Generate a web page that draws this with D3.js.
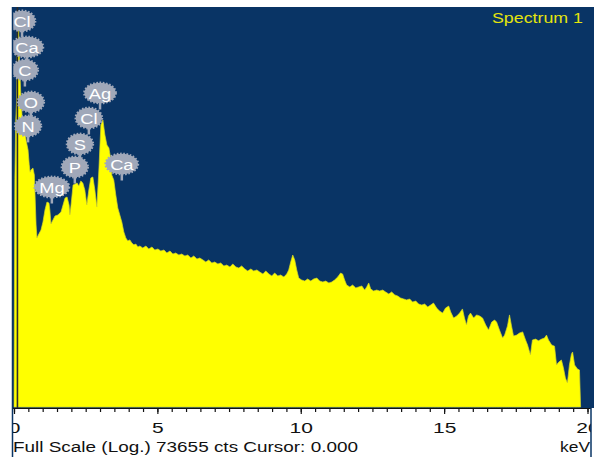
<!DOCTYPE html>
<html>
<head>
<meta charset="utf-8">
<title>Spectrum 1</title>
<script src="https://d3js.org/d3.v7.min.js"></script>
<style>
  body { margin: 0; background: #fff; }
  svg { display: block; font-family: "Liberation Sans", Arial, sans-serif; }
</style>
</head>
<body>
<div id="chart"></div>
<script>
// spectrum: energy in keV, counts (log scale)
const energyKeV = [
  0.00,0.03,0.06,0.09,0.12,0.16,0.19,0.23,0.28,0.35,
  0.42,0.49,0.53,0.56,0.59,0.66,0.71,0.77,0.80,0.87,
  0.94,1.01,1.08,1.15,1.22,1.25,1.29,1.36,1.43,1.53,
  1.64,1.71,1.78,1.85,1.92,1.95,1.99,2.06,2.13,2.20,
  2.26,2.33,2.40,2.47,2.54,2.61,2.68,2.75,2.82,2.89,
  2.96,3.03,3.10,3.17,3.24,3.31,3.38,3.41,3.48,3.55,
  3.62,3.69,3.76,3.83,3.90,3.97,4.04,4.11,4.18,4.25,
  4.32,4.39,
  4.49,4.60,4.70,4.81,4.91,5.02,5.12,5.23,5.33,5.44,
  5.54,5.64,5.75,5.85,5.96,6.06,6.17,6.27,6.38,6.48,
  6.59,6.69,6.79,6.90,7.00,7.11,7.21,7.32,7.42,7.53,
  7.63,7.74,7.84,7.94,8.05,8.15,8.26,8.36,8.47,8.57,
  8.68,8.78,8.89,8.99,9.09,9.20,9.30,9.41,9.51,9.58,
  9.65,9.72,9.79,9.86,9.93,10.03,10.14,10.24,10.35,10.45,
  10.56,10.66,10.77,10.87,10.98,11.08,11.18,11.29,11.39,11.46,
  11.53,11.60,11.71,11.81,11.92,12.02,12.13,12.23,12.30,12.37,
  12.44,12.54,12.65,12.75,12.86,12.96,13.07,13.17,13.28,13.38,
  13.48,13.59,13.69,13.80,13.90,14.01,14.11,14.22,14.32,14.43,
  14.53,14.63,14.74,14.84,14.95,15.05,15.16,15.23,15.33,15.44,
  15.54,15.64,15.71,15.78,15.85,15.92,16.03,16.13,16.24,16.34,
  16.45,16.55,16.66,16.76,16.83,16.93,17.04,17.11,17.21,17.28,
  17.35,17.42,17.53,17.63,17.74,17.84,17.91,18.01,18.08,18.19,
  18.29,18.40,18.50,18.57,18.64,18.75,18.85,18.92,18.99,19.09,
  19.16,19.23,19.30,19.37,19.44,19.48,19.55,19.65,19.72,19.76
];
const counts = [
  1,600,3000,5400,38700,40900,16700,7200,3570,2700,
  1770,1340,900,720,765,809,665,164,114,128,
  142,178,250,312,303,250,169,189,211,217,
  236,287,349,359,287,217,287,503,517,532,
  489,562,532,437,287,437,612,629,437,271,
  765,2700,3110,2040,1540,1420,1010,665,578,380,
  264,217,178,135,114,105,108,99,94,96,
  88.5,91,
  86.1,91.0,83.7,88.5,81.4,83.7,79.1,81.4,74.8,79.1,
  72.7,74.8,70.7,72.7,68.8,70.7,65.0,68.8,63.2,65.0,
  61.5,58.1,61.5,56.5,58.1,55.0,56.5,52.0,53.4,50.5,
  55.0,50.5,49.1,52.0,47.8,45.2,47.8,45.2,46.5,43.9,
  41.5,45.2,41.5,39.3,42.7,39.3,40.4,38.2,41.5,46.5,
  58.1,70.7,61.5,46.5,37.1,35.1,34.1,36.1,34.1,36.1,
  37.1,34.1,33.2,34.1,32.3,33.2,35.1,38.2,42.7,41.5,
  35.1,30.5,28.9,30.5,28.1,28.9,29.7,26.5,28.9,32.3,
  27.3,25.8,26.5,25.8,26.5,25.1,23.7,25.1,23.1,22.4,
  21.2,20.6,20.1,20.6,18.9,19.5,17.9,17.4,17.9,16.5,
  17.4,18.4,16.0,14.7,13.9,16.0,16.9,14.3,12.1,12.8,
  13.9,15.6,12.1,9.95,12.8,13.9,12.1,13.2,12.8,12.1,
  9.95,8.65,10.8,11.45,10.8,8.65,6.9,7.5,9.7,13.2,
  9.7,7.3,7.5,7.95,8.2,6.54,5.68,4.30,6.54,6.7,
  6.4,6.7,6.9,7.5,6.54,5.68,5.5,3.25,3.5,3.73,
  3.0,2.25,1.96,3.25,4.4,4.67,3.25,2.9,2.82,1
];

// element labels: name, energy (keV) and the count level where the tag sits
const markerNames = ["Cl", "Ca", "C", "O", "N", "Mg", "P", "S", "Cl", "Ag", "Ca"];
const markerKeV = [0.28, 0.45, 0.38, 0.59, 0.49, 1.32, 2.12, 2.30, 2.61, 3.00, 3.76];
const markerLevel = [49800, 24000, 12600, 5140, 2630, 475, 832, 1585, 3285, 6620, 905];

const xTicks = [0, 5, 10, 15, 20];
const minorStep = 0.5;
const fullScale = 73655;
const cursorKeV = 0.12;
const title = "Spectrum 1";
const footer = "Full Scale (Log.) 73655 cts Cursor: 0.000";
const unit = "keV";

const width = 594, height = 457;
const plot = { left: 12, top: 7, right: 594, bottom: 408 };
const blue = "#093465";
const tagGrey = "#a0a8b9";

const svg = d3.select("#chart").append("svg")
    .attr("width", width)
    .attr("height", height);

const x = d3.scaleLinear().domain([0, 20]).range([14, 587.5]);
const y = d3.scaleLog().domain([1, fullScale]).range([407, plot.top]);

const defs = svg.append("defs");
defs.append("clipPath").attr("id", "plotClip")
  .append("rect")
    .attr("x", plot.left).attr("y", plot.top)
    .attr("width", plot.right - plot.left).attr("height", plot.bottom - plot.top);
defs.append("clipPath").attr("id", "textClip")
  .append("rect")
    .attr("x", 13).attr("y", 0).attr("width", 578).attr("height", height);

// background
svg.append("rect")
    .attr("x", plot.left).attr("y", plot.top)
    .attr("width", plot.right - plot.left).attr("height", plot.bottom - plot.top)
    .attr("fill", blue);

// spectrum
const data = energyKeV.map((e, i) => ({ e, c: counts[i] }));
const area = d3.area()
    .x(d => x(d.e))
    .y0(y(1))
    .y1(d => y(d.c));

svg.append("path")
    .datum(data)
    .attr("clip-path", "url(#plotClip)")
    .attr("d", area)
    .attr("fill", "#ffff00")
    .attr("stroke", "#d6d62a")
    .attr("stroke-width", 0.7);

// cursor line
svg.append("line")
    .attr("x1", x(cursorKeV)).attr("x2", x(cursorKeV))
    .attr("y1", plot.top).attr("y2", plot.bottom)
    .attr("stroke", "#2e2e2a")
    .attr("stroke-width", 1.6);

// element tags
const tags = svg.append("g")
    .attr("clip-path", "url(#plotClip)")
  .selectAll("g")
  .data(markerNames.map((n, i) => ({ name: n, keV: markerKeV[i], level: markerLevel[i] })))
  .join("g")
    .attr("transform", d => `translate(${x(d.keV)},${y(d.level)})`);

tags.append("line")
    .attr("y1", 0).attr("y2", 16.5)
    .attr("stroke", tagGrey)
    .attr("stroke-width", 2.5);

tags.append("ellipse")
    .attr("fill", tagGrey)
    .attr("stroke", tagGrey)
    .attr("stroke-width", 2.4)
    .attr("stroke-dasharray", "1.6,1.6")
    .attr("ry", 10.2);

tags.append("text")
    .attr("text-anchor", "middle")
    .attr("dy", "0.36em")
    .attr("transform", "scale(1.18,1)")
    .attr("font-size", 15.5)
    .attr("fill", "#ffffff")
    .text(d => d.name);

tags.each(function() {
  const g = d3.select(this);
  const w = g.select("text").node().getComputedTextLength() * 1.18;
  g.select("ellipse").attr("rx", Math.max(13, w / 2 + 4.5));
});

// title
svg.append("text")
    .attr("x", 583).attr("y", 23)
    .attr("text-anchor", "end")
    .attr("font-size", 15)
    .attr("fill", "#e4e40c")
    .attr("textLength", 91)
    .attr("lengthAdjust", "spacingAndGlyphs")
    .text(title);

// x axis (tick labels at the frame edges are cut, as in the original)
const bottom = svg.append("g").attr("clip-path", "url(#textClip)");

const minorTicks = d3.range(0, 20 + minorStep / 2, minorStep);
bottom.append("g")
    .attr("transform", `translate(0,${plot.bottom})`)
    .call(d3.axisBottom(x).tickValues(minorTicks).tickSize(4).tickFormat(""))
    .call(g => g.select(".domain").remove())
    .call(g => g.selectAll("line").attr("stroke", "#111").attr("stroke-width", 1.2));

const axis = bottom.append("g")
    .attr("transform", `translate(0,${plot.bottom})`)
    .call(d3.axisBottom(x).tickValues(xTicks).tickSize(6).tickPadding(8).tickFormat(d3.format("d")))
    .call(g => g.select(".domain").remove());
axis.selectAll("line").attr("stroke", "#111").attr("stroke-width", 1.2);
axis.selectAll("text")
    .attr("font-family", "'Liberation Sans', Arial, sans-serif")
    .attr("font-size", 15)
    .attr("fill", "#111")
    .attr("transform", "scale(1.4,1)");

bottom.append("line")
    .attr("x1", plot.left).attr("x2", 591)
    .attr("y1", plot.bottom + 0.5).attr("y2", plot.bottom + 0.5)
    .attr("stroke", "#111")
    .attr("stroke-width", 1.2);

bottom.append("text")
    .attr("x", 13).attr("y", 452)
    .attr("font-size", 15.5)
    .attr("fill", "#111")
    .attr("textLength", 345)
    .attr("lengthAdjust", "spacingAndGlyphs")
    .text(footer);

bottom.append("text")
    .attr("x", 590).attr("y", 452)
    .attr("text-anchor", "end")
    .attr("font-size", 15.5)
    .attr("fill", "#111")
    .attr("textLength", 30)
    .attr("lengthAdjust", "spacingAndGlyphs")
    .text(unit);

// frame edges
svg.append("line")
    .attr("x1", 12.5).attr("x2", 12.5)
    .attr("y1", plot.top).attr("y2", height)
    .attr("stroke", blue).attr("stroke-width", 1.5);
svg.append("line")
    .attr("x1", 591).attr("x2", 591)
    .attr("y1", plot.bottom).attr("y2", height)
    .attr("stroke", blue).attr("stroke-width", 1.5);
</script>
</body>
</html>
